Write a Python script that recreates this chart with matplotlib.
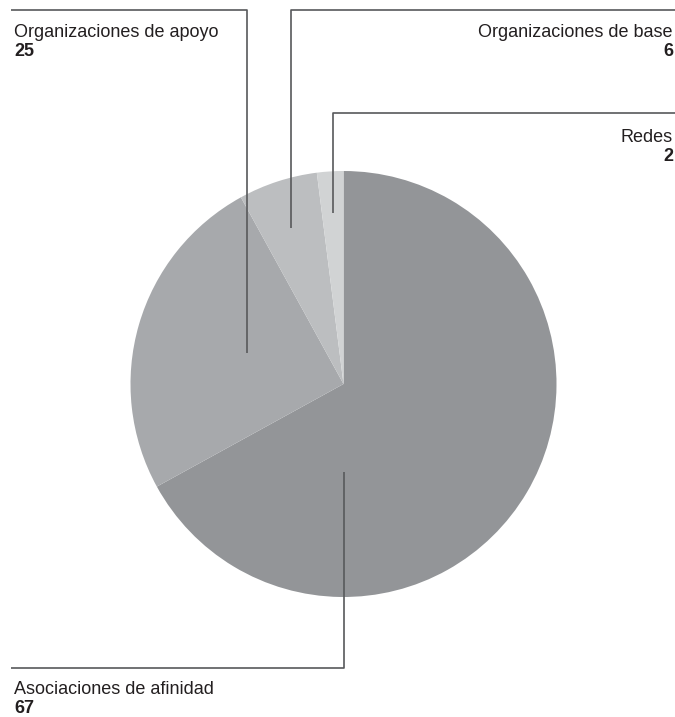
import matplotlib
matplotlib.use("Agg")
import matplotlib.pyplot as plt

# datos
labels = ["Asociaciones de afinidad", "Organizaciones de apoyo", "Organizaciones de base", "Redes"]
values = [67, 25, 6, 2]
colors = ["#939598", "#a7a9ac", "#bcbec0", "#d1d3d4"]

plt.rcParams["font.family"] = ["Liberation Sans", "DejaVu Sans"]

W, H = 675, 717
fig = plt.figure(figsize=(W / 100, H / 100), dpi=100)
ax = fig.add_axes([0, 0, 1, 1])

# pie en coordenadas de pixel (y hacia arriba)
cx, cy, r = 343.5, H - 384, 213
ax.pie(values, colors=colors, startangle=90, counterclock=False,
       center=(cx, cy), radius=r, frame=True,
       wedgeprops=dict(linewidth=0))
ax.set_xlim(0, W)
ax.set_ylim(0, H)
ax.set_aspect("equal")
ax.axis("off")

lc = "#58595b"
lw = 1.2
def leader(xs, ys):
    ax.plot(xs, [H - y for y in ys], color=lc, lw=lw, solid_capstyle="butt")

# lineas guia
leader([343.5, 343.5, 11], [472, 668, 668])  # afinidad
leader([247, 247, 11], [353, 10, 10])        # apoyo
leader([291, 291, 675], [228, 10, 10])       # base
leader([333, 333, 675], [213, 113, 113])     # redes

fs = 13
def label(x, y, name, val, ha):
    ax.text(x, H - y, name, ha=ha, va="baseline", fontsize=fs, color="#231f20")
    ax.text(x, H - y - 19, str(val), ha=ha, va="baseline", fontsize=fs,
            fontweight="bold", color="#231f20")

label(14, 37, labels[1], values[1], "left")
label(673, 37, labels[2], values[2], "right")
label(673, 142, labels[3], values[3], "right")
label(14, 694, labels[0], values[0], "left")

fig.savefig("out.png", dpi=100)
